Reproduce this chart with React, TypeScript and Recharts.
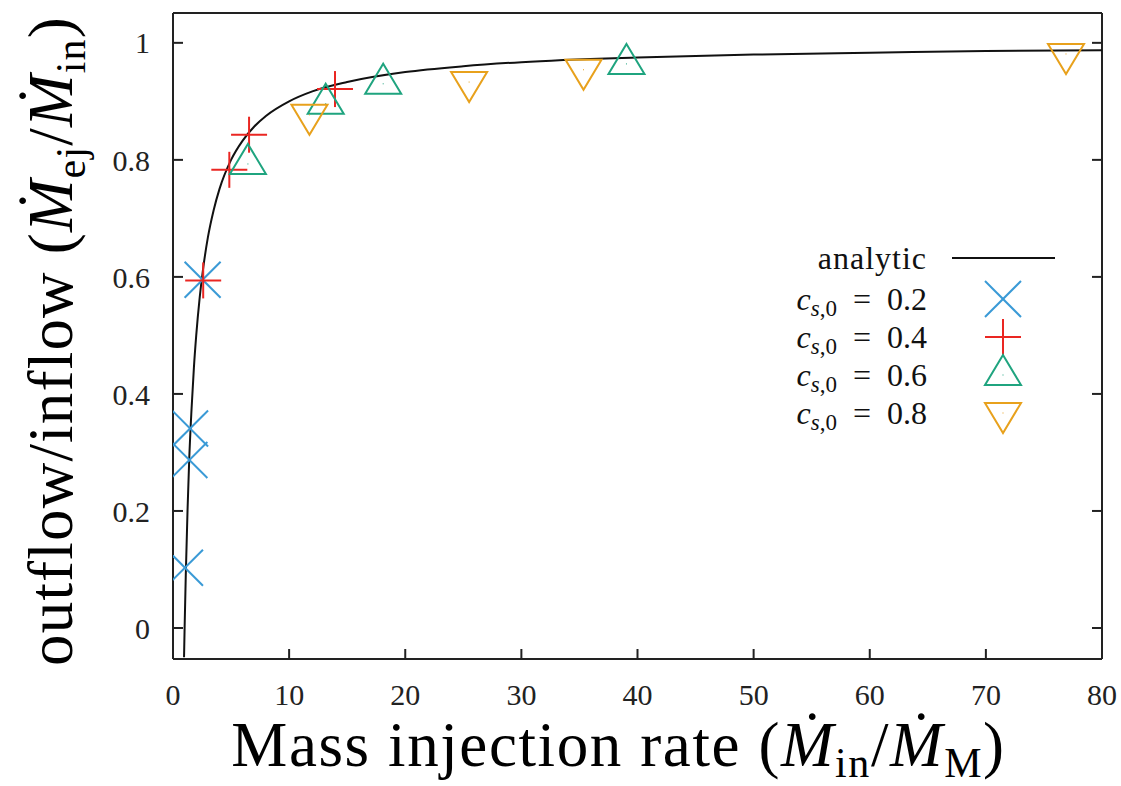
import { ScatterChart, Scatter, XAxis, YAxis } from "recharts";

// analytic curve
const curveX = [0.95, 1.0, 1.1, 1.25, 1.4, 1.6, 1.8, 2, 2.3, 2.6, 3, 3.5, 4, 5, 6, 7, 8, 10, 12, 15, 20, 25, 30, 40, 50, 60, 70, 80];
const curveY = [-0.05, 0, 0.09, 0.2, 0.29, 0.375, 0.445, 0.5, 0.565, 0.615, 0.667, 0.714, 0.75, 0.8, 0.833, 0.857, 0.875, 0.9, 0.917, 0.933, 0.95, 0.96, 0.967, 0.975, 0.98, 0.983, 0.986, 0.9875];

// simulation points
const cs02X = [2.55, 1.47, 1.41, 1.03];
const cs02Y = [0.595, 0.341, 0.287, 0.103];
const cs04X = [2.6, 4.85, 6.55, 13.95];
const cs04Y = [0.594, 0.783, 0.843, 0.921];
const cs06X = [6.45, 13.15, 18.1, 39.05];
const cs06Y = [0.793, 0.896, 0.93, 0.964];
const cs08X = [11.75, 25.5, 35.35, 76.9];
const cs08Y = [0.877, 0.933, 0.954, 0.981];

const xTicks = [0, 10, 20, 30, 40, 50, 60, 70, 80];
const yTicks = [0, 0.2, 0.4, 0.6, 0.8, 1];
const legendLabels = ["0.2", "0.4", "0.6", "0.8"];

const BLUE = "#3a9ad6";
const RED = "#ea2622";
const GREEN = "#1fa47f";
const ORANGE = "#e8a11c";
const FONT = "'Liberation Serif', serif";

const toPoints = (xs: number[], ys: number[]) => xs.map((x, i) => ({ x, y: ys[i] }));

const curve = toPoints(curveX, curveY);

const Cross = ({ cx, cy }: any) => (
  <g stroke={BLUE} strokeWidth={2}>
    <line x1={cx - 18} y1={cy - 18} x2={cx + 18} y2={cy + 18} />
    <line x1={cx - 18} y1={cy + 18} x2={cx + 18} y2={cy - 18} />
  </g>
);

const Plus = ({ cx, cy }: any) => (
  <g stroke={RED} strokeWidth={2}>
    <line x1={cx - 18} y1={cy} x2={cx + 18} y2={cy} />
    <line x1={cx} y1={cy - 18} x2={cx} y2={cy + 18} />
  </g>
);

const TriUp = ({ cx, cy }: any) => (
  <g>
    <polygon
      points={`${cx},${cy - 20} ${cx + 18},${cy + 10} ${cx - 18},${cy + 10}`}
      fill="none"
      stroke={GREEN}
      strokeWidth={2}
    />
    <rect x={cx - 0.5} y={cy - 0.5} width={1} height={1} fill={GREEN} />
  </g>
);

const TriDown = ({ cx, cy }: any) => (
  <g>
    <polygon
      points={`${cx - 18},${cy - 10} ${cx + 18},${cy - 10} ${cx},${cy + 20}`}
      fill="none"
      stroke={ORANGE}
      strokeWidth={2}
    />
    <rect x={cx - 0.5} y={cy - 0.5} width={1} height={1} fill={ORANGE} />
  </g>
);

const XTitle = ({ viewBox }: any) => (
  <text
    x={viewBox.x + viewBox.width / 2 - 19}
    y={viewBox.y + 107}
    textAnchor="middle"
    fontFamily={FONT}
    fontSize={63}
    letterSpacing={1.6}
    fill="#000"
  >
    Mass injection rate (<tspan fontStyle="italic">Ṁ</tspan>
    <tspan dy={11} fontSize={42}>in</tspan>
    <tspan dy={-11}>/</tspan>
    <tspan fontStyle="italic">Ṁ</tspan>
    <tspan dy={11} fontSize={42}>M</tspan>
    <tspan dy={-11}>)</tspan>
  </text>
);

const YTitle = ({ viewBox }: any) => {
  const bx = viewBox.x + 72;
  const by = viewBox.y + viewBox.height / 2 + 5;
  return (
    <text
      transform={`translate(${bx},${by}) rotate(-90)`}
      textAnchor="middle"
      fontFamily={FONT}
      fontSize={63}
      letterSpacing={1.2}
      fill="#000"
    >
      outflow/inflow (<tspan fontStyle="italic">Ṁ</tspan>
      <tspan dy={13} fontSize={42}>ej</tspan>
      <tspan dy={-13}>/</tspan>
      <tspan fontStyle="italic">Ṁ</tspan>
      <tspan dy={13} fontSize={42}>in</tspan>
      <tspan dy={-13}>)</tspan>
    </text>
  );
};

const legendMarkers = [Cross, Plus, TriUp, TriDown];

const ChartLegend = () => (
  <div style={{ position: "absolute", left: 0, top: 0, fontFamily: FONT, fontSize: 32, color: "#111" }}>
    <div style={{ position: "absolute", left: 677, top: 238, width: 250, height: 40, textAlign: "right", lineHeight: "40px", letterSpacing: 1 }}>
      analytic
    </div>
    <svg style={{ position: "absolute", left: 948, top: 238 }} width={110} height={40}>
      <line x1={4} y1={20} x2={107} y2={20} stroke="#111" strokeWidth={2} />
    </svg>
    {legendLabels.map((lab, i) => {
      const Marker = legendMarkers[i];
      const cy = 299 + i * 38;
      return (
        <div key={lab}>
          <div style={{ position: "absolute", left: 677, top: cy - 20, width: 250, height: 40, textAlign: "right", lineHeight: "40px", whiteSpace: "nowrap" }}>
            <i>c</i>
            <sub style={{ fontSize: 23, verticalAlign: "-6px" }}>
              <i>s</i>,0
            </sub>
            {"\u2002=\u2002" + lab}
          </div>
          <svg style={{ position: "absolute", left: 948, top: cy - 25 }} width={110} height={50}>
            <Marker cx={55} cy={25} />
          </svg>
        </div>
      );
    })}
  </div>
);

const tickStyle = { fontFamily: FONT, fontSize: 30, fill: "#222" };

export default function App() {
  return (
    <div style={{ position: "absolute", left: 0, top: 0, width: 1121, height: 786 }}>
      <ScatterChart width={1121} height={786} margin={{ top: 12, right: 18, bottom: 0, left: 0 }}>
        <XAxis
          type="number"
          dataKey="x"
          domain={[0, 80]}
          ticks={xTicks}
          allowDataOverflow
          height={127}
          tickSize={-10}
          tickMargin={35}
          tick={tickStyle}
          stroke="#222"
          strokeWidth={2}
          label={{ content: XTitle }}
        />
        <XAxis
          xAxisId="top"
          orientation="top"
          type="number"
          domain={[0, 80]}
          ticks={xTicks}
          allowDataOverflow
          height={1}
          tickSize={-10}
          tick={() => <g />}
          stroke="#222"
          strokeWidth={2}
        />
        <YAxis
          type="number"
          dataKey="y"
          domain={[-0.053, 1.051]}
          ticks={yTicks}
          allowDataOverflow
          width={173}
          tickSize={-10}
          tickMargin={33}
          tick={tickStyle}
          stroke="#222"
          strokeWidth={2}
          label={{ content: YTitle }}
        />
        <YAxis
          yAxisId="right"
          orientation="right"
          type="number"
          domain={[-0.053, 1.051]}
          ticks={yTicks}
          allowDataOverflow
          width={1}
          tickSize={-10}
          tick={() => <g />}
          stroke="#222"
          strokeWidth={2}
        />
        <Scatter
          data={curve}
          line={{ stroke: "#111", strokeWidth: 2 }}
          lineJointType="monotoneX"
          shape={() => <g />}
          isAnimationActive={false}
        />
        <Scatter data={toPoints(cs02X, cs02Y)} shape={Cross} isAnimationActive={false} />
        <Scatter data={toPoints(cs04X, cs04Y)} shape={Plus} isAnimationActive={false} />
        <Scatter data={toPoints(cs06X, cs06Y)} shape={TriUp} isAnimationActive={false} />
        <Scatter data={toPoints(cs08X, cs08Y)} shape={TriDown} isAnimationActive={false} />
      </ScatterChart>
      <ChartLegend />
    </div>
  );
}
